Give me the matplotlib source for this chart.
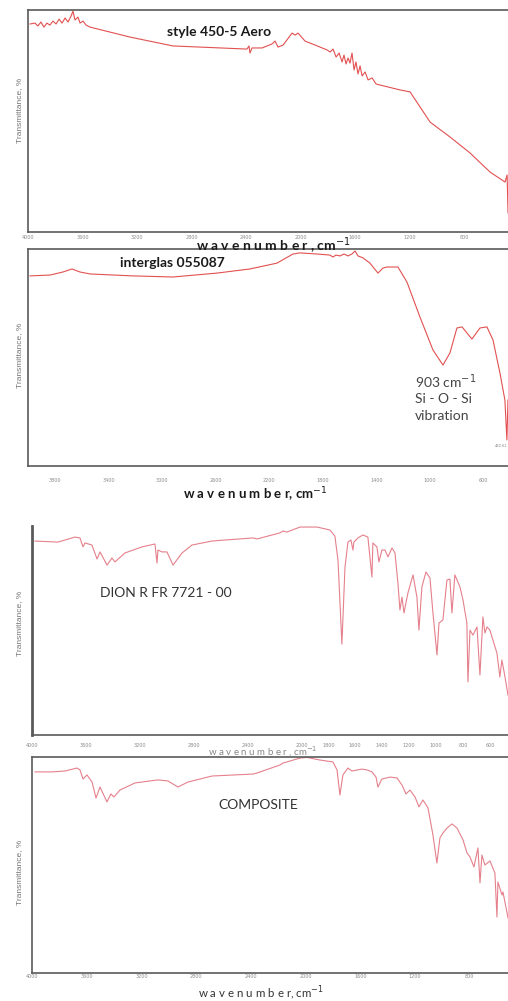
import matplotlib
matplotlib.use("Agg")
import matplotlib.pyplot as plt

# ---------------- data ----------------
# Panel 1: style 450-5 Aero
wn1 = [3985, 3949, 3927, 3905, 3883, 3861, 3839, 3817, 3794, 3772, 3750, 3728, 3706, 3684,
       3670, 3655, 3633, 3618, 3596, 3574, 3545, 3251, 2936, 2738, 2393, 2378, 2371, 2356,
       2282, 2209, 2187, 2165, 2128, 2062, 2040, 2018, 1967, 1893, 1805, 1783, 1761, 1739,
       1717, 1695, 1681, 1666, 1651, 1637, 1622, 1607, 1593, 1578, 1563, 1548, 1526, 1504,
       1475, 1446, 1416, 1270, 1196, 1049, 903, 756, 609, 499, 484, 477]
t1 = [93.7, 94.1, 92.8, 94.6, 92.3, 94.1, 93.2, 95.0, 93.7, 95.9, 94.1, 96.4, 94.6, 97.3,
      99.5, 95.5, 96.8, 94.1, 95.0, 93.2, 92.3, 87.8, 83.8, 83.3, 82.4, 83.8, 80.6, 82.9,
      82.9, 84.7, 86.0, 83.3, 84.2, 89.6, 88.7, 89.6, 86.0, 84.2, 82.0, 81.1, 82.4, 78.8,
      80.6, 76.6, 79.7, 75.7, 78.4, 76.1, 80.6, 73.0, 76.6, 71.2, 74.8, 70.3, 72.1, 68.5,
      69.4, 66.7, 66.2, 64.0, 63.1, 49.5, 42.8, 35.6, 27.0, 22.5, 25.7, 8.6]

# Panel 2: interglas 055087
wn2 = [3985, 3836, 3739, 3672, 3612, 3537, 3217, 2918, 2590, 2344, 2142, 2023, 1971, 1844,
       1747, 1725, 1702, 1672, 1643, 1613, 1583, 1560, 1538, 1501, 1449, 1389, 1352, 1322,
       1240, 1173, 1076, 979, 904, 852, 800, 762, 688, 628, 576, 531, 479, 442, 427, 419]
t2 = [87.6, 88.0, 89.4, 90.8, 89.4, 88.5, 87.6, 87.1, 88.9, 90.8, 93.5, 97.7, 98.2, 97.7,
      97.2, 96.3, 97.2, 96.8, 97.7, 96.8, 97.7, 99.1, 96.8, 95.9, 93.5, 88.9, 91.2, 91.7,
      91.7, 84.8, 68.7, 53.5, 46.5, 52.1, 63.6, 64.1, 58.5, 63.6, 64.1, 58.1, 42.9, 30.4,
      12.0, 30.4]

# Panel 3: DION R FR 7721 - 00
wn3 = [3978, 3807, 3681, 3644, 3621, 3607, 3555, 3517, 3495, 3443, 3406, 3384, 3310, 3183,
       3087, 3072, 3065, 3035, 2998, 2953, 2886, 2812, 2664, 2359, 2330, 2159, 2137, 2107,
       2010, 1884, 1788, 1751, 1728, 1699, 1676, 1654, 1632, 1617, 1610, 1580, 1543, 1506,
       1476, 1469, 1439, 1424, 1402, 1379, 1357, 1327, 1305, 1283, 1268, 1253, 1238, 1209,
       1171, 1142, 1127, 1105, 1075, 1045, 1023, 993, 978, 949, 919, 897, 882, 860, 822,
       800, 771, 763, 748, 726, 696, 674, 652, 637, 622, 600, 548, 526, 511, 488, 466]
t3 = [92.8, 92.3, 94.7, 94.3, 90.0, 91.9, 90.9, 84.2, 87.6, 81.3, 84.7, 82.8, 87.1, 90.0,
      91.4, 82.3, 88.5, 87.6, 87.6, 81.3, 87.1, 90.9, 92.8, 94.3, 93.8, 96.7, 97.6, 97.1,
      99.5, 99.5, 98.1, 95.2, 83.7, 43.5, 80.4, 92.3, 93.3, 88.5, 92.3, 94.3, 95.7, 94.7,
      75.6, 91.9, 90.0, 82.8, 88.5, 88.5, 85.2, 89.5, 87.1, 72.7, 59.8, 66.0, 58.4, 67.9,
      76.6, 66.0, 50.2, 70.8, 78.0, 75.1, 58.4, 38.3, 53.6, 55.0, 74.2, 74.6, 58.4, 76.6, 70.8,
      64.6, 53.6, 25.4, 50.2, 47.8, 51.7, 28.7, 56.5, 48.8, 51.7, 50.2, 39.2, 27.8, 35.9, 27.8, 19.1]

# Panel 4: COMPOSITE
wn4 = [3978, 3854, 3759, 3671, 3649, 3627, 3598, 3561, 3532, 3503, 3452, 3423, 3401, 3357,
       3247, 3079, 3006, 2933, 2860, 2684, 2384, 2355, 2187, 2165, 2041, 1990, 1895, 1800,
       1770, 1749, 1727, 1690, 1661, 1624, 1588, 1551, 1515, 1485, 1471, 1442, 1383, 1332,
       1295, 1266, 1237, 1200, 1171, 1142, 1105, 1069, 1040, 1018, 996, 966, 930, 893, 849,
       820, 798, 769, 740, 725, 711, 689, 652, 616, 601, 594, 564, 557, 520]
t4 = [93.1, 93.1, 93.5, 94.9, 94.0, 89.8, 91.7, 88.4, 81.0, 86.1, 79.2, 82.9, 81.5, 84.7,
      88.0, 89.4, 88.9, 86.1, 88.4, 91.2, 92.1, 92.6, 96.3, 97.2, 99.5, 99.8, 98.6, 97.7,
      94.0, 82.4, 91.7, 94.9, 93.5, 94.0, 94.4, 94.0, 93.1, 90.7, 86.1, 89.8, 90.7, 90.3,
      87.0, 82.9, 84.7, 81.5, 76.9, 80.1, 76.4, 63.9, 50.9, 62.5, 64.8, 67.1, 69.0, 67.1, 61.6,
      55.6, 53.7, 49.1, 57.9, 41.7, 54.6, 50.0, 51.9, 46.3, 25.9, 42.1, 36.1, 37.5, 25.5]

ticks1 = [4000, 3600, 3200, 2800, 2400, 2000, 1600, 1200, 800]
ticks2 = [3800, 3400, 3000, 2600, 2200, 1800, 1400, 1000, 600]
ticks3 = [4000, 3600, 3200, 2800, 2400, 2000, 1800, 1600, 1400, 1200, 1000, 800, 600]
ticks4 = [4000, 3600, 3200, 2800, 2400, 2000, 1600, 1200, 800]

titles = ["style 450-5 Aero", "interglas 055087", "DION R FR 7721 - 00", "COMPOSITE"]
annot_lines = ["903 cm$^{-1}$", "Si - O - Si", "vibration"]
peak_label = "432.61"
ylab = "Transmittance, %"

# ---------------- layout ----------------
W, H = 508, 1001
fig = plt.figure(figsize=(W / 100, H / 100), dpi=100)
fig.patch.set_facecolor("white")


def rect(l, t, r, b):
    return [l / W, 1 - b / H, (r - l) / W, (b - t) / H]


def fp(x, y):
    return x / W, 1 - y / H


spine_c = "#5a5a5a"
red = "#e25050"
pink = "#e5808c"
tick_c = "#8a8a8a"

panels = [
    dict(r=rect(28, 10, 512, 232), xlim=(4000, 448), wn=wn1, t=t1, ticks=ticks1, c=red, pad=2, top=True),
    dict(r=rect(28, 249, 512, 466), xlim=(4000, 389), wn=wn2, t=t2, ticks=ticks2, c=red, pad=9, top=True),
    dict(r=rect(32, 526, 512, 735), xlim=(4000, 436), wn=wn3, t=t3, ticks=ticks3, c=pink, pad=6, top=False),
    dict(r=rect(32, 757, 512, 973), xlim=(4000, 491), wn=wn4, t=t4, ticks=ticks4, c=pink, pad=1, top=True),
]

axes = []
for p in panels:
    ax = fig.add_axes(p["r"])
    ax.plot(p["wn"], p["t"], color=p["c"], lw=0.8)
    ax.set_xlim(*p["xlim"])
    ax.set_ylim(0, 100)
    ax.set_yticks([])
    ax.set_xticks(p["ticks"])
    ax.set_xticklabels([str(v) for v in p["ticks"]])
    ax.tick_params(axis="x", length=0, pad=p["pad"], labelsize=3.5, labelcolor=tick_c)
    for s in ["left", "bottom", "top", "right"]:
        ax.spines[s].set_color(spine_c)
        ax.spines[s].set_linewidth(1.2)
    ax.spines["top"].set_visible(p["top"])
    axes.append(ax)
axes[2].spines["left"].set_linewidth(2.0)

# y labels
for yc in [110, 355, 623, 872]:
    fig.text(*fp(20, yc), ylab, rotation=90, ha="center", va="center",
             fontsize=6, color="#777777", family="Liberation Sans")

# panel titles
fig.text(*fp(167, 32), titles[0], ha="left", va="center", fontsize=10,
         fontweight="bold", color="#1a1a1a", family="Lato")
fig.text(*fp(120, 263), titles[1], ha="left", va="center", fontsize=10,
         fontweight="bold", color="#1a1a1a", family="Lato")
fig.text(*fp(100, 593), titles[2], ha="left", va="center", fontsize=10,
         color="#333333", family="Lato")
fig.text(*fp(218, 805), titles[3], ha="left", va="center", fontsize=10,
         color="#333333", family="Lato")

# annotation in panel 2
for i, line in enumerate(annot_lines):
    fig.text(*fp(415, 382 + 17 * i), line, ha="left", va="center", fontsize=10,
             color="#444444", family="Lato")
fig.text(*fp(501, 446), peak_label, ha="center", va="center", fontsize=3,
         color="#888888", family="Liberation Sans")

# x labels
xl = "w a v e n u m b e r , cm$^{-1}$"
xl2 = "w a v e n u m b e r, cm$^{-1}$"
fig.text(*fp(273, 246), xl, ha="center", va="center", fontsize=10,
         fontweight="bold", color="#1a1a1a", family="Lato")
fig.text(*fp(255, 495), xl2, ha="center", va="center", fontsize=9.5,
         fontweight="bold", color="#1a1a1a", family="Lato")
fig.text(*fp(263, 752), xl, ha="center", va="center", fontsize=7,
         color="#888888", family="Lato")
fig.text(*fp(261, 993), xl2, ha="center", va="center", fontsize=8.3,
         color="#333333", family="Lato")

fig.savefig("out.png", dpi=100)
